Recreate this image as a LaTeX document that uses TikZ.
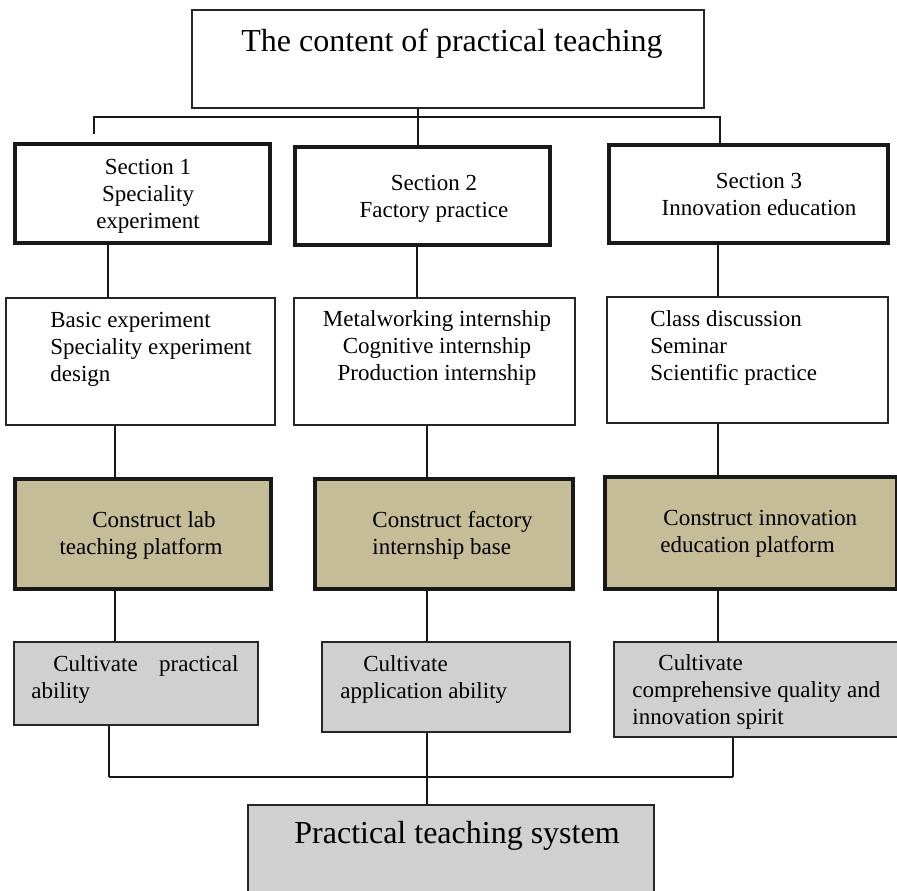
\documentclass[tikz,border=0pt]{standalone}
\usepackage{fontspec}
\setmainfont{Liberation Serif}
\usepackage{tikz}
\usetikzlibrary{positioning}
\definecolor{ptan}{RGB}{196,189,151}
\definecolor{pgray}{RGB}{208,208,208}

\begin{document}
\begin{tikzpicture}[x=0.5pt, y=-0.5pt,
  plainbox/.style={draw=black!85, line width=0.75pt, anchor=north west, inner sep=0pt, fill=white},
  sectionbox/.style={plainbox, draw=black!90, line width=2pt},
  basebox/.style={sectionbox, fill=ptan},
  abilitybox/.style={plainbox, fill=pgray},
  txt/.style={inner sep=0pt, font=\fontsize{11.5}{13.5}\selectfont},
  bigtxt/.style={inner sep=0pt, font=\fontsize{16}{19}\selectfont},
  link/.style={draw=black!90, line width=0.75pt},
  bus/.style={draw=black!90, line width=1.25pt}]
\useasboundingbox (0,0) rectangle (897,890);
\clip (0,0) rectangle (897,890);

% Top box
\node[plainbox, minimum width=256pt, minimum height=49pt] (title) at (191,9) {};
\node[bigtxt, anchor=base] (titletxt) at (452,51) {The content of practical teaching};

% Three sections (text placed by the baseline of its last line)
\node[sectionbox, minimum width=127.5pt, minimum height=49.5pt] (sec1) at (13,142) {};
\node[sectionbox, minimum width=127.5pt, minimum height=49pt] (sec2) at (293,145) {};
\node[sectionbox, minimum width=139.5pt, minimum height=49pt] (sec3) at (607,143) {};
\node[txt, anchor=base, align=center] (sec1txt) at (148,228) {Section 1\\Speciality\\experiment};
\node[txt, anchor=base, align=center] (sec2txt) at (434,217) {Section 2\\Factory practice};
\node[txt, anchor=base, align=center] (sec3txt) at (759,215) {Section 3\\Innovation education};

% What each section contains
\node[plainbox, minimum width=134.5pt, minimum height=63.5pt] (con1) at (5,297) {};
\node[plainbox, minimum width=140.5pt, minimum height=63.5pt] (con2) at (293,297) {};
\node[plainbox, minimum width=140.5pt, minimum height=63pt] (con3) at (606,296) {};
\node[txt, anchor=base west, align=left] (con1txt) at (50,381) {Basic experiment\\Speciality experiment\\design};
\node[txt, anchor=base, align=center] (con2txt) at (437,380) {Metalworking internship\\Cognitive internship\\Production internship};
\node[txt, anchor=base west, align=left] (con3txt) at (650,380) {Class discussion\\Seminar\\Scientific practice};

% Platforms
\node[basebox, minimum width=128pt, minimum height=55pt] (plat1) at (13,477) {};
\node[basebox, minimum width=129pt, minimum height=55pt] (plat2) at (313,477) {};
\node[basebox, minimum width=146pt, minimum height=56pt] (plat3) at (603,475) {};
\node[txt, anchor=base, align=center] (plat1txt) at (141,554) {\hspace*{13pt}Construct lab\\teaching platform};
\node[txt, anchor=base west, align=left] (plat2txt) at (372,554) {Construct factory\\internship base};
\node[txt, anchor=base west, align=left] (plat3txt) at (660,552) {\hspace*{1.5pt}Construct innovation\\education platform};

% Abilities (with text width the base is the first line)
\node[abilitybox, minimum width=122pt, minimum height=41.5pt] (cult1) at (13,641) {};
\node[abilitybox, minimum width=124pt, minimum height=45pt] (cult2) at (321,641) {};
\node[abilitybox, minimum width=142pt, minimum height=47.5pt] (cult3) at (613,641) {};
\node[txt, anchor=base west, align=left, text width=103.5pt] (cult1txt) at (31,671) {\hspace*{11pt}Cultivate\hspace{0pt plus 1filll}practical\\ability};
\node[txt, anchor=base west, align=left] (cult2txt) at (340,698) {\hspace*{11.5pt}Cultivate\\application ability};
\node[txt, anchor=base west, align=left] (cult3txt) at (632,724) {\hspace*{13pt}Cultivate\\comprehensive quality and\\innovation spirit};

% Result
\node[abilitybox, minimum width=203pt, minimum height=60pt] (system) at (247,804) {};
\node[bigtxt, anchor=base] (systemtxt) at (457,843) {Practical teaching system};

% Connectors
\coordinate (tip1) at (94,134);
\draw[link] (title.south -| 418,0) -- (sec2.north -| 418,0);
\draw[link] (tip1) -- ++(0,-17) -| (sec3.north -| 720,0);
\foreach \a/\b/\x in {sec1/con1/108, sec2/con2/417, sec3/con3/718,
                      con1/plat1/115, con2/plat2/427, con3/plat3/718,
                      plat1/cult1/115, plat2/cult2/427, plat3/cult3/718}
  \draw[link] (\a.south -| \x,0) -- (\b.north -| \x,0);

\coordinate (busL) at (109,777);
\coordinate (busR) at (733,777);
\draw[bus] (busL) -- (busR);
\draw[link] (cult1.south -| busL) -- (busL);
\draw[link] (cult3.south -| busR) -- (busR);
\draw[link] (cult2.south -| 427,0) -- (system.north -| 427,0);
\end{tikzpicture}
\end{document}
